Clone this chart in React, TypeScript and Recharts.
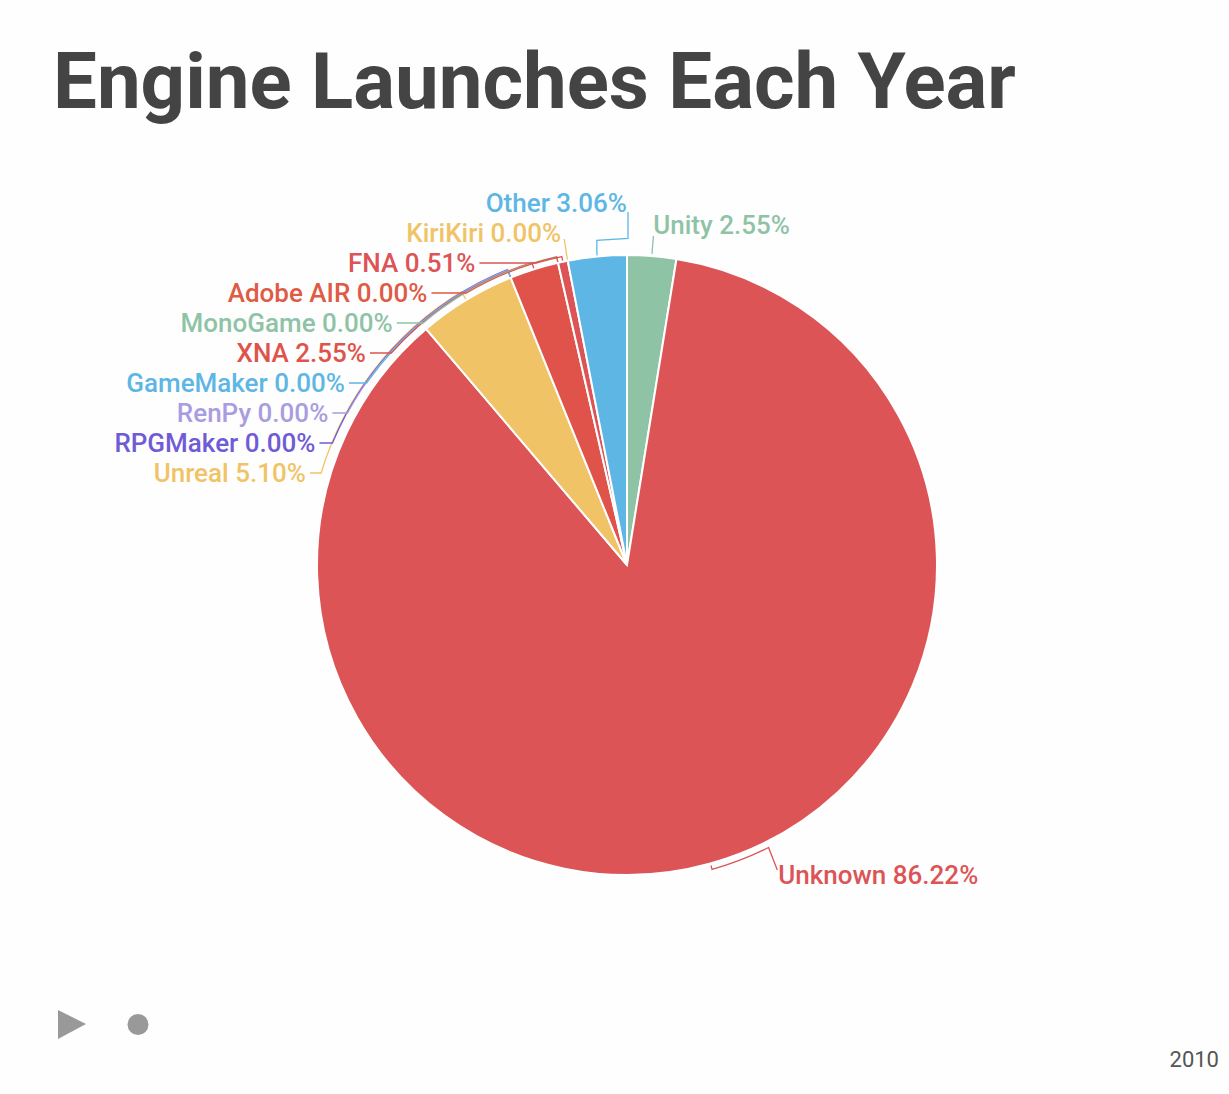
import React from 'react';
import { PieChart, Pie, Cell } from 'recharts';

const title = 'Engine Launches Each Year';
const year = '2010';
const engines = ['Unity', 'Unknown', 'Unreal', 'RPGMaker', 'RenPy', 'GameMaker', 'XNA', 'MonoGame', 'Adobe AIR', 'FNA', 'KiriKiri', 'Other'];
const launches = [5, 169, 10, 0, 0, 0, 5, 0, 0, 1, 0, 6];
const colors = ['#8fc3a6', '#dc5456', '#f0c466', '#6f5bd6', '#a99ce0', '#5eb6e4', '#e0534b', '#8fc3a6', '#e05a44', '#dc5456', '#f0c466', '#5eb6e4'];

const data = engines.map((name, i) => ({ name, value: launches[i] }));

const RAD = Math.PI / 180;

function renderLabel(props: any) {
  const { cx, cy, outerRadius: r, midAngle, index, percent, name } = props;
  const tt = (((90 - midAngle) % 360) + 360) % 360; // clockwise from top
  const pol = (R: number, a: number): [number, number] => [cx + R * Math.sin(a * RAD), cy - R * Math.cos(a * RAD)];
  const color = colors[index];
  const text = `${name} ${(percent * 100).toFixed(2)}%`;
  const font = { fontFamily: 'Roboto', fontSize: 26, fontWeight: 500 } as any;
  const p = (q: [number, number]) => `${q[0].toFixed(2)},${q[1].toFixed(2)}`;

  if (tt > 180) {
    const k = engines.length - 1 - index;
    const y = cy - r - 52 + k * 30;
    const Rl = r + 29 - 0.55 * k;
    const dy = y - cy;
    const xEnd = Math.abs(dy) < Rl ? cx - Math.sqrt(Rl * Rl - dy * dy) : cx;
    const ra = r + 4 + k * 0.6;
    const A = pol(r + 1, tt);
    const B = pol(ra, tt);
    let d = '';
    if (Math.abs(dy) < ra - 2) {
      const cxp = cx - Math.sqrt(ra * ra - dy * dy);
      let la = Math.atan2(cxp - cx, -dy) / RAD;
      if (la < 0) la += 360;
      const sweep = la < tt ? 0 : 1;
      d = `M${p(A)} L${p(B)} A${ra},${ra} 0 0 ${sweep} ${cxp.toFixed(2)},${y} L${(xEnd + 4).toFixed(2)},${y}`;
    } else if (xEnd === cx) {
      const yb = B[1] - 12;
      d = `M${p(A)} L${p(B)} L${B[0].toFixed(2)},${yb} L${cx + 1},${yb - 2} L${cx + 1},${y + 9}`;
    } else {
      d = `M${p(A)} L${p(B)} L${(xEnd + 3).toFixed(2)},${y + 6}`;
    }
    return (
      <g key={`lbl-${index}`}>
        <path d={d} fill="none" stroke={color} strokeWidth={1.3} />
        <text x={xEnd} y={y} textAnchor="end" dominantBaseline="central" fill={color} style={font}>
          {text}
        </text>
      </g>
    );
  }

  const lower = tt > 90;
  const labelT = lower ? tt - 11 : tt;
  const ra = r + 6;
  const A = pol(r + 2, tt);
  const B = pol(ra, tt);
  const C = pol(ra, labelT);
  const D = lower ? pol(r + 30, labelT) : pol(r + 20, labelT);
  const T = pol(r + 30, labelT);
  const d = lower
    ? `M${p(A)} L${p(B)} A${ra},${ra} 0 0 0 ${p(C)} L${(D[0] - 2).toFixed(2)},${(D[1] + 1).toFixed(2)}`
    : `M${p(A)} L${p(D)}`;
  return (
    <g key={`lbl-${index}`}>
      <path d={d} fill="none" stroke={color} strokeWidth={1.3} />
      <text x={T[0] - 1} y={T[1] + (lower ? 6 : -1)} textAnchor="start" dominantBaseline="central" fill={color} style={font}>
        {text}
      </text>
    </g>
  );
}

export default function App() {
  return (
    <div style={{ position: 'absolute', left: 0, top: 0, width: 1229, height: 1094, background: '#fefefe', overflow: 'hidden' }}>
      <div
        style={{
          position: 'absolute',
          left: 53,
          top: 43,
          fontFamily: 'Roboto',
          fontWeight: 700,
          fontSize: 78,
          lineHeight: 1,
          color: '#444444',
          whiteSpace: 'nowrap',
        }}
      >
        {title}
      </div>
      <div style={{ position: 'absolute', left: 0, top: 0 }}>
        <PieChart width={1229} height={1000} margin={{ top: 0, right: 0, bottom: 0, left: 0 }}>
          <Pie
            data={data}
            dataKey="value"
            nameKey="name"
            cx={627}
            cy={565}
            outerRadius={310}
            startAngle={90}
            endAngle={-270}
            stroke="#ffffff"
            strokeWidth={2}
            label={renderLabel}
            labelLine={false}
            isAnimationActive={false}
          >
            {data.map((entry, i) => (
              <Cell key={entry.name} fill={colors[i]} />
            ))}
          </Pie>
        </PieChart>
      </div>
      <svg style={{ position: 'absolute', left: 0, top: 990 }} width={200} height={70}>
        <polygon points="58,20 86,34 58,49" fill="#999999" />
        <circle cx={138} cy={34.5} r={10.5} fill="#999999" />
      </svg>
      <div
        style={{
          position: 'absolute',
          right: 10,
          top: 1049,
          fontFamily: 'Roboto',
          fontSize: 22,
          lineHeight: 1,
          color: '#555555',
        }}
      >
        {year}
      </div>
    </div>
  );
}
